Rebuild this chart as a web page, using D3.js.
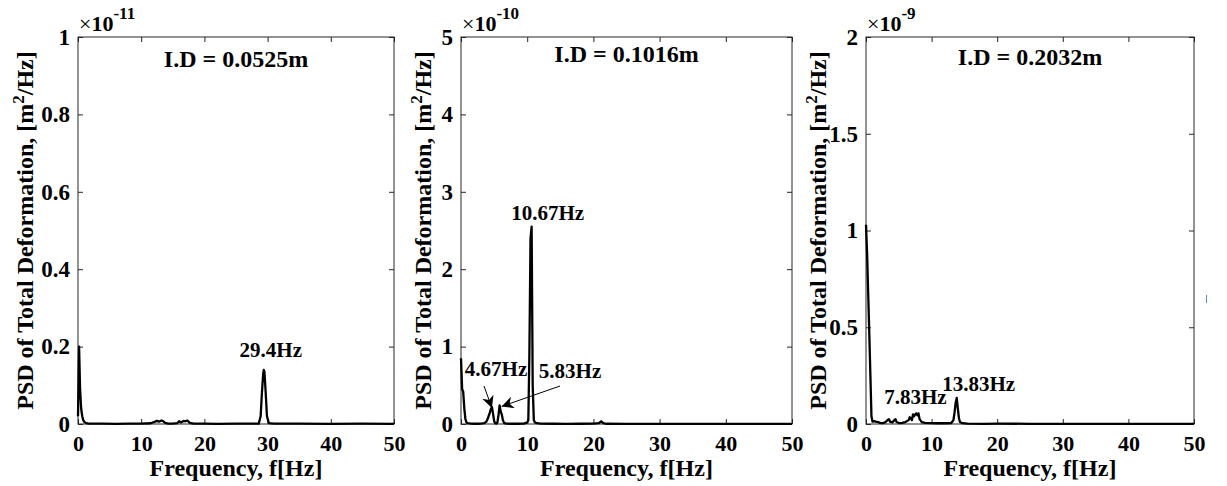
<!DOCTYPE html>
<html>
<head>
<meta charset="utf-8">
<script src="https://cdn.jsdelivr.net/npm/d3@7"></script>
<style>
  body { margin: 0; background: #fff; }
  svg { display: block; }
  text { font-family: "Liberation Serif", "Times New Roman", serif; font-weight: bold; fill: #000; }
</style>
</head>
<body>
<svg id="chart" width="1227" height="486"></svg>
<script>
// Frequency ticks shared by all three spectra (Hz)
const xTicks = [0, 10, 20, 30, 40, 50];

// I.D = 0.0525 m  — PSD in units of 1e-11 m^2/Hz
const freq1 = [0, 0.17, 0.33, 0.5, 0.67, 0.83, 1.0, 1.33, 1.67, 2.0, 4, 6, 8, 10, 11.5, 12.2, 12.5, 12.8, 13.2, 13.5, 13.8, 14.3, 15, 15.7, 16.0, 16.3, 16.7, 17.0, 17.3, 17.7, 18.3, 20, 22, 25, 28, 28.6, 28.9, 29.1, 29.3, 29.4, 29.5, 29.7, 29.9, 30.2, 31, 35, 40, 45, 50];
const psd1  = [0.02, 0.2, 0.09, 0.04, 0.02, 0.01, 0.005, 0.002, 0.001, 0.001, 0.001, 0.0005, 0.001, 0.001, 0.002, 0.006, 0.008, 0.006, 0.009, 0.007, 0.003, 0.001, 0.001, 0.002, 0.007, 0.004, 0.008, 0.007, 0.009, 0.003, 0.001, 0.001, 0.0005, 0.001, 0.001, 0.001, 0.02, 0.08, 0.13, 0.14, 0.135, 0.08, 0.02, 0.002, 0.001, 0.001, 0.0005, 0.001, 0.0005];

// I.D = 0.1016 m  — PSD in units of 1e-10 m^2/Hz
const freq2 = [0, 0.17, 0.33, 0.5, 0.67, 0.83, 1.0, 1.5, 2.0, 2.5, 3.0, 3.5, 3.83, 4.0, 4.17, 4.33, 4.5, 4.67, 4.83, 5.0, 5.17, 5.33, 5.5, 5.67, 5.83, 6.0, 6.17, 6.33, 6.5, 6.83, 7.5, 8.5, 9.5, 10.0, 10.17, 10.33, 10.5, 10.67, 10.83, 11.0, 11.17, 11.5, 12, 14, 16, 18, 20, 20.8, 21.17, 21.5, 22, 25, 30, 35, 40, 45, 50];
const psd2  = [0.85, 0.45, 0.42, 0.2, 0.06, 0.02, 0.01, 0.005, 0.003, 0.003, 0.005, 0.01, 0.03, 0.06, 0.1, 0.14, 0.19, 0.22, 0.14, 0.04, 0.01, 0.005, 0.02, 0.12, 0.24, 0.16, 0.12, 0.05, 0.015, 0.005, 0.003, 0.003, 0.005, 0.02, 0.05, 0.9, 2.4, 2.55, 0.5, 0.05, 0.02, 0.01, 0.005, 0.003, 0.002, 0.003, 0.004, 0.01, 0.035, 0.01, 0.003, 0.002, 0.002, 0.001, 0.001, 0.001, 0.001];

// I.D = 0.2032 m  — PSD in units of 1e-9 m^2/Hz
const freq3 = [0, 0.17, 0.33, 0.5, 0.67, 0.83, 1.0, 1.17, 1.5, 1.83, 2.17, 2.5, 3.0, 3.33, 3.5, 3.67, 4.0, 4.33, 4.5, 4.67, 5.0, 5.5, 6.0, 6.5, 6.67, 6.83, 7.0, 7.17, 7.33, 7.5, 7.67, 7.83, 8.0, 8.17, 8.5, 9.0, 10, 11, 12, 13.0, 13.33, 13.5, 13.67, 13.83, 14.0, 14.17, 14.33, 14.67, 15.5, 18, 20, 25, 30, 35, 40, 45, 50];
const psd3  = [1.03, 0.88, 0.68, 0.47, 0.25, 0.04, 0.012, 0.015, 0.012, 0.01, 0.006, 0.004, 0.01, 0.022, 0.025, 0.012, 0.008, 0.02, 0.025, 0.01, 0.005, 0.006, 0.01, 0.02, 0.035, 0.03, 0.02, 0.05, 0.04, 0.05, 0.055, 0.045, 0.055, 0.025, 0.01, 0.006, 0.005, 0.004, 0.004, 0.005, 0.02, 0.06, 0.11, 0.135, 0.08, 0.03, 0.01, 0.004, 0.002, 0.001, 0.002, 0.001, 0.001, 0.001, 0.0005, 0.0005, 0.0005];

// Y-axis ticks and exponent for each spectrum
const yTicks1 = [0, 0.2, 0.4, 0.6, 0.8, 1];
const yTicks2 = [0, 1, 2, 3, 4, 5];
const yTicks3 = [0, 0.5, 1, 1.5, 2];
const exponents = ["-11", "-10", "-9"];
const titles = ["I.D = 0.0525m", "I.D = 0.1016m", "I.D = 0.2032m"];

// Peak labels: frequency of the marked peak and its text
const peaks1 = [{ f: 29.4, text: "29.4Hz" }];
const peaks2 = [{ f: 10.67, text: "10.67Hz" }, { f: 4.67, text: "4.67Hz" }, { f: 5.83, text: "5.83Hz" }];
const peaks3 = [{ f: 7.83, text: "7.83Hz" }, { f: 13.83, text: "13.83Hz" }];

// Panel geometry and label placement
const layout = [
  { left: 78,  right: 394,  titleY: 67, yLabelX: 25,
    peakPos: [{ dx: 7, dy: -13 }] },
  { left: 461, right: 792,  titleY: 62, yLabelX: 423,
    peakPos: [{ dx: 16, dy: -7 }, { lx: 496, ly: 376, ax: 484, ay: 386 }, { lx: 570, ly: 378, ax: 560, ay: 386 }] },
  { left: 866, right: 1194, titleY: 65, yLabelX: 818,
    peakPos: [{ dx: -2, dy: -11 }, { dx: 22, dy: -7 }] }
];
const plotTop = 37, plotBottom = 424;

const panels = [
  { freq: freq1, psd: psd1, yTicks: yTicks1, peaks: peaks1 },
  { freq: freq2, psd: psd2, yTicks: yTicks2, peaks: peaks2 },
  { freq: freq3, psd: psd3, yTicks: yTicks3, peaks: peaks3 }
];

const svg = d3.select("#chart");
const defs = svg.append("defs");
defs.append("marker")
  .attr("id", "arrowHead")
  .attr("viewBox", "0 0 10 10")
  .attr("refX", 10).attr("refY", 5)
  .attr("markerWidth", 17).attr("markerHeight", 12)
  .attr("markerUnits", "userSpaceOnUse")
  .attr("orient", "auto")
  .append("path").attr("d", "M0,0 L10,5 L0,10 L3,5 Z").attr("fill", "#000");

const axisColor = "#262626";
const fmt = d3.format("~g");

panels.forEach((p, i) => {
  const L = layout[i];
  const x = d3.scaleLinear().domain([0, 50]).range([L.left, L.right]);
  const yMax = p.yTicks[p.yTicks.length - 1];
  const y = d3.scaleLinear().domain([0, yMax]).range([plotBottom, plotTop]);
  const g = svg.append("g");

  // box frame
  g.append("rect")
    .attr("x", L.left).attr("y", plotTop)
    .attr("width", L.right - L.left).attr("height", plotBottom - plotTop)
    .attr("fill", "none").attr("stroke", axisColor).attr("stroke-width", 1);

  // axes with inward ticks on all four sides
  const axB = g.append("g").attr("transform", `translate(0,${plotBottom})`)
    .call(d3.axisBottom(x).tickValues(xTicks).tickSize(-5).tickPadding(11).tickFormat(fmt));
  const axT = g.append("g").attr("transform", `translate(0,${plotTop})`)
    .call(d3.axisTop(x).tickValues(xTicks).tickSize(-5).tickFormat(""));
  const axL = g.append("g").attr("transform", `translate(${L.left},0)`)
    .call(d3.axisLeft(y).tickValues(p.yTicks).tickSize(-5).tickPadding(8).tickFormat(fmt));
  const axR = g.append("g").attr("transform", `translate(${L.right},0)`)
    .call(d3.axisRight(y).tickValues(p.yTicks).tickSize(-5).tickFormat(""));
  [axB, axT, axL, axR].forEach(a => {
    a.select(".domain").remove();
    a.selectAll(".tick line").attr("stroke", axisColor);
    a.selectAll(".tick text")
      .attr("font-family", "Liberation Serif").attr("font-weight", "bold").attr("fill", "#000");
  });
  axB.selectAll(".tick text").attr("font-size", 22);
  axL.selectAll(".tick text").attr("font-size", 23);

  // spectrum line
  const line = d3.line().x((d, k) => x(p.freq[k])).y(d => y(d));
  g.append("path").datum(p.psd)
    .attr("d", line)
    .attr("fill", "none").attr("stroke", "#000").attr("stroke-width", 2.3)
    .attr("stroke-linejoin", "round");

  // title
  g.append("text")
    .attr("x", (L.left + L.right) / 2).attr("y", L.titleY)
    .attr("text-anchor", "middle").attr("font-size", 24)
    .text(titles[i]);

  // exponent multiplier
  const ex = g.append("text").attr("x", L.left + 1).attr("y", 31).attr("font-size", 22);
  ex.append("tspan").attr("font-weight", "normal").text("\u00d7");
  ex.append("tspan").text("10");
  ex.append("tspan").attr("dy", -12).attr("font-size", 17).text(exponents[i]);

  // x label
  g.append("text")
    .attr("x", (L.left + L.right) / 2).attr("y", 476)
    .attr("text-anchor", "middle").attr("font-size", 24)
    .text("Frequency, f[Hz]");

  // y label
  const yl = g.append("text")
    .attr("transform", `translate(${L.yLabelX},${(plotTop + plotBottom) / 2}) rotate(-90)`)
    .attr("text-anchor", "middle").attr("dy", "0.35em").attr("font-size", 24);
  yl.append("tspan").text("PSD of Total Deformation, [m");
  yl.append("tspan").attr("dy", -9).attr("font-size", 17).text("2");
  yl.append("tspan").attr("dy", 9).text("/Hz]");

  // peak labels (and arrows where the label sits off the peak)
  p.peaks.forEach((pk, j) => {
    const k = p.freq.indexOf(pk.f);
    const px = x(pk.f), py = y(p.psd[k]);
    const pos = L.peakPos[j];
    if (pos.lx !== undefined) {
      g.append("text").attr("x", pos.lx).attr("y", pos.ly)
        .attr("text-anchor", "middle").attr("font-size", 21).text(pk.text);
      g.append("line")
        .attr("x1", pos.ax).attr("y1", pos.ay)
        .attr("x2", px + (pos.ax > px ? 2 : 0)).attr("y2", py + 1)
        .attr("stroke", "#000").attr("stroke-width", 1)
        .attr("marker-end", "url(#arrowHead)");
    } else {
      g.append("text").attr("x", px + pos.dx).attr("y", py + pos.dy)
        .attr("text-anchor", "middle").attr("font-size", 21).text(pk.text);
    }
  });
});

// small marker near the right edge
svg.append("line").attr("x1", 1206.5).attr("x2", 1206.5).attr("y1", 295).attr("y2", 303)
  .attr("stroke", "#5b8fc7").attr("stroke-width", 1);
</script>
</body>
</html>
